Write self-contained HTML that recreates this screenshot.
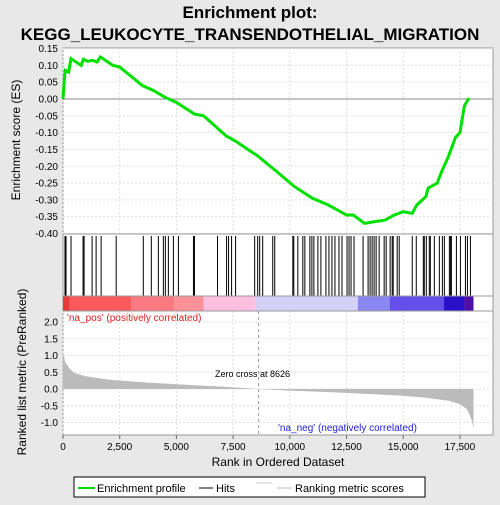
<!DOCTYPE html>
<html><head><meta charset="utf-8"><style>
body{margin:0;background:#e8e8e8;font-family:"Liberation Sans",sans-serif}
svg text{font-family:"Liberation Sans",sans-serif}
</style></head><body>
<svg width="500" height="500">
<rect x="0" y="0" width="500" height="500" fill="#e8e8e8"/>
<text x="250" y="18" text-anchor="middle" font-size="17" font-weight="bold">Enrichment plot:</text>
<text x="250" y="40" text-anchor="middle" font-size="17" font-weight="bold">KEGG_LEUKOCYTE_TRANSENDOTHELIAL_MIGRATION</text>
<rect x="63" y="48" width="430" height="387" fill="#fff" stroke="#999"/>
<g id="grid"></g>
<g id="es"></g>
<g id="hits"></g>
<g id="cbar"></g>
<g id="metric"></g>
<g id="axes"></g>
<text x="20" y="140" transform="rotate(-90 20 140)" text-anchor="middle" font-size="12">Enrichment score (ES)</text>
<text x="26" y="372" transform="rotate(-90 26 372)" text-anchor="middle" font-size="12">Ranked list metric (PreRanked)</text>
<text x="278" y="466" text-anchor="middle" font-size="12">Rank in Ordered Dataset</text>
<text x="67" y="321" font-size="10" fill="#e02020">'na_pos' (positively correlated)</text>
<text x="278" y="431" font-size="10" fill="#2020e0">'na_neg' (negatively correlated)</text>
<text x="215" y="377" font-size="9">Zero cross at 8626</text>
<g>
<rect x="74" y="477" width="351" height="20" fill="#fff" stroke="#000"/>
<line x1="78" y1="488" x2="95" y2="488" stroke="#00e000" stroke-width="2"/>
<text x="97" y="492" font-size="11">Enrichment profile</text>
<line x1="199" y1="488" x2="213" y2="488" stroke="#000"/>
<text x="216" y="492" font-size="11">Hits</text>
<line x1="256" y1="483" x2="272" y2="483" stroke="#ccc"/>
<line x1="277" y1="488" x2="292" y2="488" stroke="#bbb"/>
<text x="295" y="492" font-size="11">Ranking metric scores</text>
</g>
</svg>
<script>
const esRanks=[0,50,100,250,350,800,900,1100,1300,1500,1650,2200,2500,3500,4000,4500,5000,5800,6200,7200,7600,8600,9500,10200,11000,11700,12500,12800,13300,13700,14200,14600,15000,15400,15600,16000,16100,16500,16700,17000,17300,17500,17700,17900];
const esValues=[0,0.05,0.085,0.08,0.12,0.1,0.118,0.112,0.115,0.11,0.125,0.1,0.095,0.04,0.025,0.005,-0.01,-0.045,-0.05,-0.11,-0.125,-0.17,-0.22,-0.26,-0.295,-0.315,-0.345,-0.345,-0.37,-0.365,-0.36,-0.345,-0.335,-0.34,-0.315,-0.29,-0.265,-0.25,-0.215,-0.17,-0.115,-0.1,-0.02,0.003];
const hitRanks=[88,133,354,885,929,1283,1460,1681,2345,3540,3894,4204,4425,4513,4646,4867,5088,5752,5796,6814,7212,7300,7433,7610,8451,8584,8672,8805,9248,9336,10133,10177,10354,10575,10664,10885,10974,11062,11239,11372,11593,11726,11859,11991,12168,12301,12523,12611,12700,12832,13230,13452,13540,13629,13717,13806,13939,14160,14248,14425,14514,14558,14735,14824,15399,15576,15886,15930,16019,16151,16196,16373,16594,16727,16815,17036,17081,17125,17346,17523,17744,17832,17965];
const metricRanks=[0,100,300,500,1000,2000,3500,5000,7000,8626,10000,12000,13500,15000,16000,17000,17500,17800,17950,18050,18100];
const metricValues=[1.1,0.8,0.6,0.48,0.38,0.28,0.2,0.14,0.07,0,-0.05,-0.1,-0.15,-0.2,-0.26,-0.35,-0.45,-0.6,-0.8,-1.0,-1.2];
const xTicks=[0,2500,5000,7500,10000,12500,15000,17500];
const esTicks=[0.15,0.10,0.05,0.00,-0.05,-0.10,-0.15,-0.20,-0.25,-0.30,-0.35,-0.40];
const metricTicks=[2.0,1.5,1.0,0.5,0.0,-0.5,-1.0];
const NS='http://www.w3.org/2000/svg';
const X=r=>63+r*56.7/2500;
const YE=v=>99-v*336.4;
const YM=v=>389-v*33.5;
function el(p,t,a){const e=document.createElementNS(NS,t);for(const k in a)e.setAttribute(k,a[k]);document.getElementById(p).appendChild(e);return e;}
// grid
xTicks.forEach(t=>{let g=el('grid','line',{x1:X(t),x2:X(t),y1:48,y2:234,stroke:'#ddd','stroke-dasharray':'2,2'});
let g2=el('grid','line',{x1:X(t),x2:X(t),y1:311,y2:435,stroke:'#ddd','stroke-dasharray':'2,2'});
let tk=el('axes','line',{x1:X(t),x2:X(t),y1:435,y2:439,stroke:'#666'});
let tx=el('axes','text',{x:X(t),y:450,'text-anchor':'middle','font-size':'10'});tx.textContent=t.toLocaleString('en-US');});
esTicks.forEach(t=>{let g=el('grid','line',{x1:63,x2:493,y1:YE(t),y2:YE(t),stroke:t===0?'#888':'#ddd','stroke-dasharray':t===0?'':'2,2'});
let tx=el('axes','text',{x:58,y:YE(t)+3.5,'text-anchor':'end','font-size':'10'});tx.textContent=t.toFixed(2);});
metricTicks.forEach(t=>{let g=el('grid','line',{x1:63,x2:493,y1:YM(t),y2:YM(t),stroke:'#ddd','stroke-dasharray':'2,2'});
let tx=el('axes','text',{x:58,y:YM(t)+3.5,'text-anchor':'end','font-size':'10'});tx.textContent=t.toFixed(1);});
[234,296,311].forEach(y=>{let l=el('axes','line',{x1:63,x2:493,y1:y,y2:y,stroke:'#999'});});
let zc=el('axes','line',{x1:X(8626),x2:X(8626),y1:311,y2:435,stroke:'#999','stroke-dasharray':'3,3'});


// ES
let pe=el('es','polyline',{points:esRanks.map((r,i)=>X(r)+','+YE(esValues[i])).join(' '),fill:'none',stroke:'#00e000','stroke-width':'3'});


// hits
hitRanks.forEach(r=>{let h=el('hits','line',{x1:X(r),x2:X(r),y1:236,y2:296,stroke:'#000','stroke-width':'1'});

});
// colorbar
const cb=[[0,300,'#e83838'],[300,3000,'#fa5a5a'],[3000,4900,'#fb7a82'],[4900,6200,'#fd9098'],[6200,8500,'#fbbfe0'],[8500,13000,'#d4d0f6'],[13000,14400,'#8a86f2'],[14400,16800,'#6450e8'],[16800,17700,'#2a10c8'],[17700,18100,'#5010a8']];
cb.forEach(c=>{let r=el('cbar','rect',{x:X(c[0]),y:296,width:X(c[1])-X(c[0]),height:15,fill:c[2]});

});
// metric
let pts=metricRanks.map((r,i)=>X(r)+','+YM(metricValues[i]));
let pm=el('metric','polygon',{points:X(0)+','+YM(0)+' '+pts.join(' ')+' '+X(18100)+','+YM(0),fill:'#bbb'});


</script>
</body></html>
